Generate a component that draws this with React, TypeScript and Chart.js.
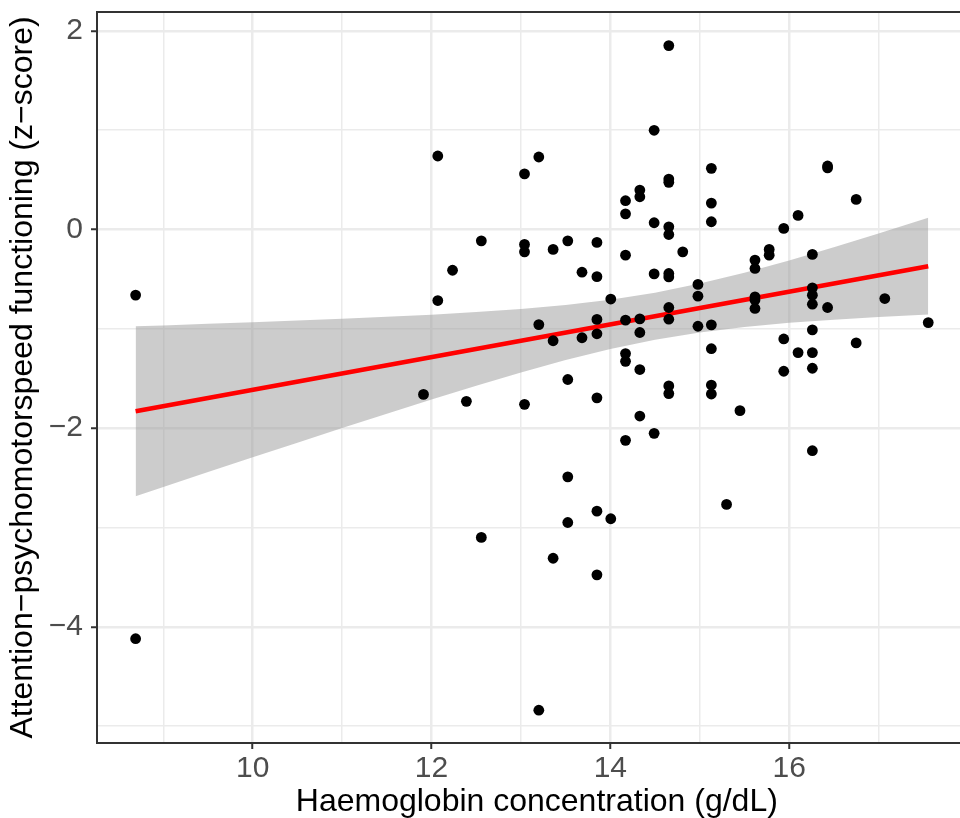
import React, { useEffect, useRef } from "react";
import { Chart, registerables } from "chart.js";

Chart.register(...registerables);

// Haemoglobin concentration (g/dL) per participant
const haemoglobin = [
  8.69, 8.69, 11.91, 12.07, 12.07, 12.235, 12.39, 12.557, 12.557, 13.04,
  13.04, 13.04, 13.04, 13.2, 13.2, 13.2, 13.36, 13.36, 13.36, 13.524,
  13.524, 13.524, 13.524, 13.683, 13.683, 13.85, 13.85, 13.85, 13.85, 13.85,
  13.85, 13.85, 14.005, 14.005, 14.17, 14.17, 14.17, 14.17, 14.17, 14.17,
  14.17, 14.33, 14.33, 14.33, 14.33, 14.33, 14.33, 14.49, 14.49, 14.49,
  14.49, 14.654, 14.654, 14.654, 14.654, 14.654, 14.654, 14.654, 14.654, 14.654,
  14.654, 14.654, 14.81, 14.98, 14.98, 14.98, 15.13, 15.13, 15.13, 15.13,
  15.13, 15.13, 15.13, 15.3, 15.45, 15.618, 15.618, 15.618, 15.618, 15.618,
  15.777, 15.777, 15.94, 15.94, 15.94, 16.1, 16.1, 16.26, 16.26, 16.26,
  16.26, 16.26, 16.26, 16.26, 16.26, 16.43, 16.43, 16.43, 16.75, 16.75,
  17.07, 17.556,
];

// Attention-psychomotor speed functioning (z-score) per participant
const attention = [
  -0.66, -4.12, -1.66, 0.74, -0.715, -0.41, -1.73, -0.114, -3.1, 0.56,
  -0.15, -0.225, -1.76, 0.73, -0.957, -4.84, -0.2, -1.12, -3.31, -0.114,
  -1.51, -2.49, -2.95, -0.43, -1.09, -0.13, -0.475, -0.905, -1.05, -1.695,
  -2.836, -3.477, -0.7, -2.912, 0.29, 0.158, -0.258, -0.913, -1.249, -1.327,
  -2.123, 0.397, 0.33, -0.9, -1.037, -1.41, -1.878, 0.999, 0.068, -0.447,
  -2.052, 1.852, 0.508, 0.475, 0.027, -0.05, -0.443, -0.477, -0.785, -0.903,
  -1.575, -1.652, -0.225, -0.553, -0.671, -0.974, 0.616, 0.266, 0.078, -0.96,
  -1.2, -1.566, -1.656, -2.768, -1.824, -0.308, -0.392, -0.678, -0.71, -0.795,
  -0.2, -0.258, 0.011, -1.102, -1.427, 0.142, -1.239, -0.251, -0.587, -0.661,
  -0.752, -1.011, -1.239, -1.397, -2.227, 0.64, 0.62, -0.785, 0.303, -1.142,
  -0.695, -0.937,
];

// Linear fit (red line)
const fitX = [8.69, 17.556];
const fitY = [-1.83, -0.369];

// Confidence band (grey ribbon)
const bandX = [8.69, 9.0, 9.5, 10, 10.5, 11, 11.5, 12, 12.5, 13, 13.5, 14, 14.5, 15, 15.5, 16, 16.5, 17, 17.556];
const bandUpper = [-0.975, -0.966, -0.95, -0.934, -0.917, -0.899, -0.879, -0.857, -0.831, -0.8, -0.76, -0.707, -0.636, -0.544, -0.435, -0.311, -0.179, -0.04, 0.118];
const bandLower = [-2.685, -2.592, -2.442, -2.294, -2.146, -1.999, -1.855, -1.712, -1.573, -1.44, -1.315, -1.203, -1.11, -1.036, -0.981, -0.939, -0.908, -0.881, -0.856];

// Axis tick labels shown
const xTickLabels = [10, 12, 14, 16];
const yTickLabels = [-4, -2, 0, 2];

const xTitle = "Haemoglobin concentration (g/dL)";
const yTitle = "Attention\u2212psychomotorspeed functioning (z\u2212score)";

const FONT = "'Liberation Sans', Arial, Helvetica, sans-serif";

const fmt = (v: number) => (v < 0 ? "\u2212" + Math.abs(v) : String(v));

export default function App() {
  const ref = useRef<HTMLCanvasElement>(null);

  useEffect(() => {
    const canvas = ref.current;
    if (!canvas) return;

    const topBorder = {
      id: "topBorder",
      afterDatasetsDraw(chart: any) {
        const { ctx, chartArea } = chart;
        ctx.save();
        ctx.strokeStyle = "#333333";
        ctx.lineWidth = 2;
        ctx.beginPath();
        ctx.moveTo(chartArea.left - 1, chartArea.top);
        ctx.lineTo(chartArea.right, chartArea.top);
        ctx.stroke();
        ctx.restore();
      },
    };

    const isMajorX = (v: number) => xTickLabels.includes(v);
    const isMajorY = (v: number) => yTickLabels.includes(v);

    const chart = new Chart(canvas, {
      type: "scatter",
      data: {
        datasets: [
          {
            type: "line",
            data: bandX.map((x, i) => ({ x, y: bandUpper[i] })),
            borderColor: "rgba(0,0,0,0)",
            borderWidth: 0,
            pointRadius: 0,
            fill: "+1",
            backgroundColor: "rgba(153,153,153,0.5)",
            tension: 0,
            order: 3,
          } as any,
          {
            type: "line",
            data: bandX.map((x, i) => ({ x, y: bandLower[i] })),
            borderColor: "rgba(0,0,0,0)",
            borderWidth: 0,
            pointRadius: 0,
            fill: false,
            tension: 0,
            order: 3,
          } as any,
          {
            type: "line",
            data: fitX.map((x, i) => ({ x, y: fitY[i] })),
            borderColor: "#ff0000",
            borderWidth: 4.6,
            pointRadius: 0,
            fill: false,
            order: 2,
          } as any,
          {
            type: "scatter",
            data: haemoglobin.map((x, i) => ({ x, y: attention[i] })),
            backgroundColor: "#000000",
            borderWidth: 0,
            pointRadius: 5.4,
            pointHoverRadius: 5.4,
            order: 1,
          } as any,
        ],
      },
      options: {
        animation: false,
        responsive: false,
        maintainAspectRatio: false,
        layout: { padding: { left: 0, right: 0, top: 12, bottom: 0 } },
        plugins: {
          legend: { display: false },
          tooltip: { enabled: false },
        },
        scales: {
          x: {
            type: "linear",
            position: "bottom",
            min: 8.258,
            max: 18.097,
            afterFit: (s: any) => {
              s.height = 75;
              s.paddingLeft = 0;
              s.paddingRight = 0;
            },
            ticks: {
              stepSize: 1,
              includeBounds: false,
              autoSkip: false,
              maxRotation: 0,
              padding: 2,
              color: "#4d4d4d",
              font: { family: FONT, size: 30 },
              callback: (v: any) => (isMajorX(Number(v)) ? fmt(Number(v)) : ""),
            },
            grid: {
              color: "#ebebeb",
              lineWidth: (c: any) => (c.tick && isMajorX(c.tick.value) ? 2.5 : 1.5),
              drawTicks: true,
              tickLength: 6,
              tickWidth: 2,
              tickColor: (c: any) => (c.tick && isMajorX(c.tick.value) ? "#333333" : "rgba(0,0,0,0)"),
            },
            border: { display: true, color: "#333333", width: 2 },
            title: {
              display: true,
              text: xTitle,
              color: "#000000",
              font: { family: FONT, size: 32, lineHeight: 1.0 },
              padding: { top: 0, bottom: 0 },
            },
          },
          y: {
            type: "linear",
            position: "left",
            min: -5.17,
            max: 2.19,
            afterFit: (s: any) => {
              s.width = 97;
              s.paddingTop = 0;
              s.paddingBottom = 0;
            },
            ticks: {
              stepSize: 1,
              includeBounds: false,
              autoSkip: false,
              padding: 8,
              color: "#4d4d4d",
              font: { family: FONT, size: 30 },
              callback: (v: any) => (isMajorY(Number(v)) ? fmt(Number(v)) : ""),
            },
            grid: {
              color: "#ebebeb",
              lineWidth: (c: any) => (c.tick && isMajorY(c.tick.value) ? 2.5 : 1.5),
              drawTicks: true,
              tickLength: 6,
              tickWidth: 2,
              tickColor: (c: any) => (c.tick && isMajorY(c.tick.value) ? "#333333" : "rgba(0,0,0,0)"),
            },
            border: { display: true, color: "#333333", width: 2 },
            title: {
              display: true,
              text: yTitle,
              color: "#000000",
              font: { family: FONT, size: 32, lineHeight: 1.0 },
              padding: { top: 7, bottom: 0 },
            },
          },
        },
      },
      plugins: [topBorder],
    });

    return () => chart.destroy();
  }, []);

  return (
    <div
      style={{
        position: "absolute",
        left: 0,
        top: 0,
        width: 960,
        height: 818,
        overflow: "hidden",
        background: "#ffffff",
      }}
    >
      <canvas ref={ref} width={982} height={818} style={{ display: "block", width: 982, height: 818 }} />
    </div>
  );
}
